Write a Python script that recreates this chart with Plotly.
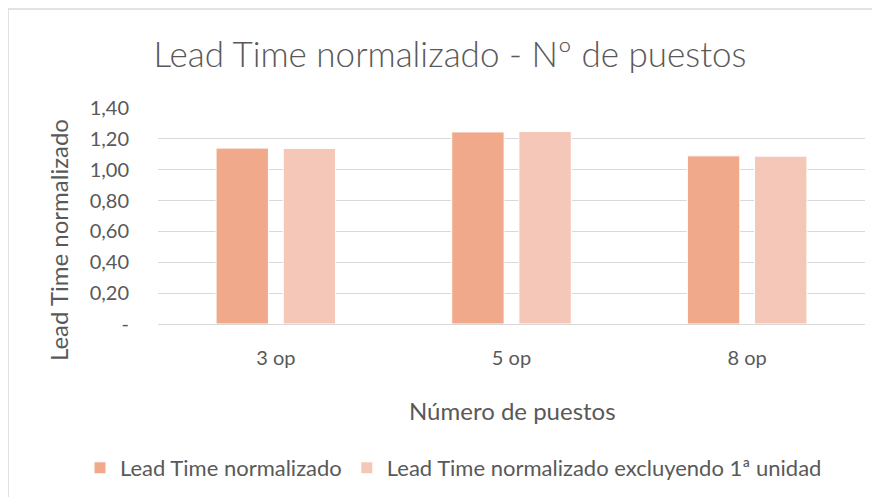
import plotly.graph_objects as go

# data
categories = ["3 op", "5 op", "8 op"]
lead_time = [1.14, 1.245, 1.09]
lead_time_excl = [1.138, 1.248, 1.088]
tick_vals = [0, 0.2, 0.4, 0.6, 0.8, 1.0, 1.2, 1.4]
tick_text = ["-", "0,20", "0,40", "0,60", "0,80", "1,00", "1,20", "1,40"]

txt = "#595959"
grid = "#D9D9D9"
fnt = "Lato"

# plot area in screen pixels (the page body adds an 8px offset)
PX0, PX1, PY0, PY1 = 158, 865, 108, 324
def px(x):
    return (x - PX0) / (PX1 - PX0)
def py(y):
    return (PY1 - y) / (PY1 - PY0)

fig = go.Figure()
fig.add_trace(go.Bar(x=categories, y=lead_time, name="Lead Time normalizado",
                     marker=dict(color="#F1A98B", line=dict(color="white", width=1))))
fig.add_trace(go.Bar(x=categories, y=lead_time_excl,
                     name="Lead Time normalizado excluyendo 1ª unidad",
                     marker=dict(color="#F5C7B8", line=dict(color="white", width=1))))

fig.update_layout(
    width=880, height=497,
    margin=dict(l=PX0 - 8, r=880 - (PX1 - 8), t=PY0 - 8, b=497 - (PY1 - 8)),
    paper_bgcolor="white", plot_bgcolor="white",
    font=dict(family=fnt, color=txt, size=20),
    title=dict(text="Lead Time normalizado - Nº de puestos", x=442 / 880, xanchor="center",
               y=1 - 47 / 497, yanchor="middle",
               font=dict(size=35, color=txt, family=fnt, weight=300)),
    barmode="group", bargap=0.43, bargroupgap=0.22,
    showlegend=True,
    # anchored left of the plot area so plotly lets it span the full width on one row
    legend=dict(orientation="h", x=px(80), xanchor="left", y=py(468), yanchor="middle",
                font=dict(size=22, color=txt), itemwidth=30, traceorder="normal"),
    xaxis=dict(showgrid=False, showline=False, ticks="", ticklabelstandoff=20,
               tickfont=dict(size=20)),
    yaxis=dict(range=[0, 1.4], tickvals=tick_vals, ticktext=tick_text,
               showgrid=True, gridcolor=grid, gridwidth=1, zeroline=True,
               zerolinecolor=grid, zerolinewidth=1, ticklabelstandoff=28,
               tickfont=dict(size=20)),
)

# axis titles placed as annotations to match Excel's positions
fig.add_annotation(text="Lead Time normalizado", xref="paper", yref="paper",
                   x=px(58), y=py(240), xanchor="center", yanchor="middle",
                   textangle=-90, showarrow=False, font=dict(size=24, color=txt))
fig.add_annotation(text="Número de puestos", xref="paper", yref="paper",
                   x=px(512), y=py(410), xanchor="center", yanchor="middle",
                   showarrow=False, font=dict(size=24, color=txt))

# chart frame border
fig.add_shape(type="rect", xref="paper", yref="paper",
              x0=px(8), x1=px(900), y0=py(520), y1=py(9),
              line=dict(color=grid, width=1.5), layer="below")

fig.write_html("out.html")
